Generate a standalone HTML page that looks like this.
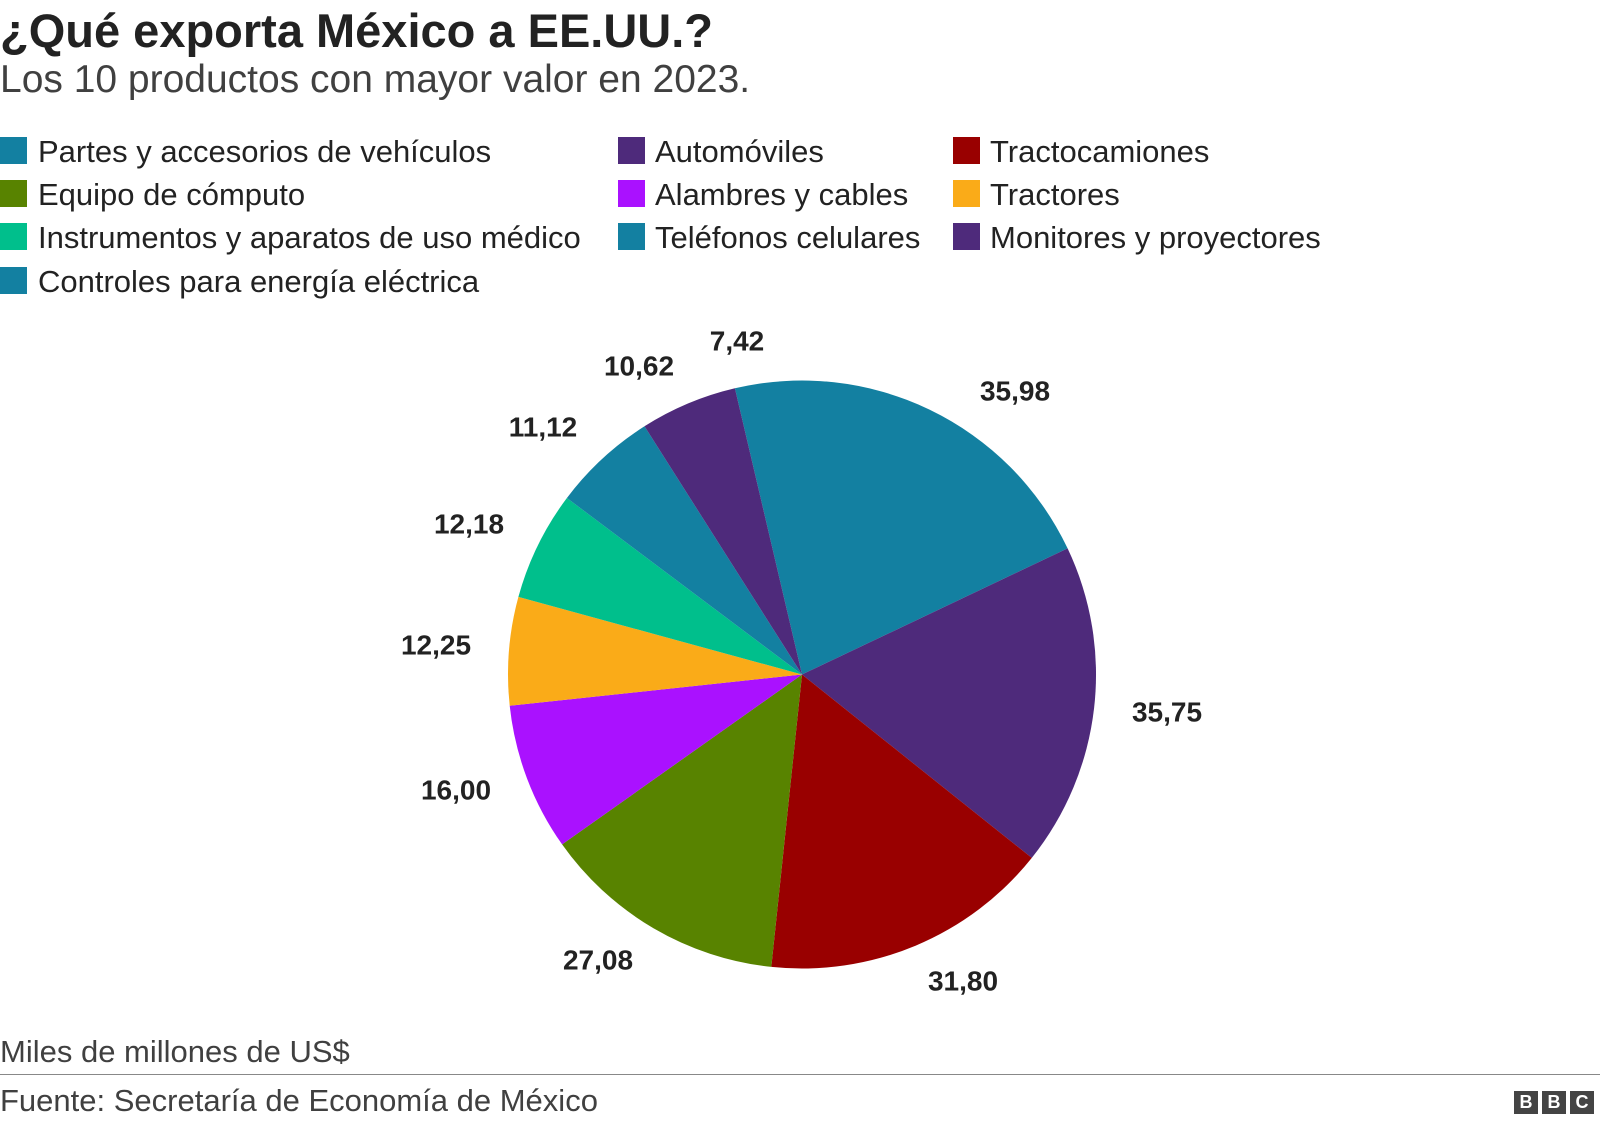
<!DOCTYPE html>
<html><head><meta charset="utf-8"><style>
body{margin:0;width:1600px;height:1129px;background:#fff;font-family:"Liberation Sans",Arial,sans-serif;overflow:hidden;position:relative}
.t{position:absolute;white-space:nowrap;color:#222}
.sq{position:absolute;width:27px;height:27px}
.lg{position:absolute;font-size:31px;color:#222;white-space:nowrap;line-height:30px}
</style></head><body>
<div class="t" style="left:0;top:3px;font-size:47px;font-weight:bold">¿Qué exporta México a EE.UU.?</div>
<div class="t" style="left:0;top:58px;font-size:39px;color:#404040">Los 10 productos con mayor valor en 2023.</div>

<div class="sq" style="left:0;top:137px;background:#1380A1"></div><div class="lg" style="left:38px;top:137px">Partes y accesorios de vehículos</div>
<div class="sq" style="left:618px;top:137px;background:#4E2A7B"></div><div class="lg" style="left:655px;top:137px">Automóviles</div>
<div class="sq" style="left:953px;top:137px;background:#990000"></div><div class="lg" style="left:990px;top:137px">Tractocamiones</div>

<div class="sq" style="left:0;top:180px;background:#588300"></div><div class="lg" style="left:38px;top:180px">Equipo de cómputo</div>
<div class="sq" style="left:618px;top:180px;background:#AA11FF"></div><div class="lg" style="left:655px;top:180px">Alambres y cables</div>
<div class="sq" style="left:953px;top:180px;background:#FAAB18"></div><div class="lg" style="left:990px;top:180px">Tractores</div>

<div class="sq" style="left:0;top:223px;background:#00BF8C"></div><div class="lg" style="left:38px;top:223px">Instrumentos y aparatos de uso médico</div>
<div class="sq" style="left:618px;top:223px;background:#1380A1"></div><div class="lg" style="left:655px;top:223px">Teléfonos celulares</div>
<div class="sq" style="left:953px;top:223px;background:#4E2A7B"></div><div class="lg" style="left:990px;top:223px">Monitores y proyectores</div>

<div class="sq" style="left:0;top:267px;background:#1380A1"></div><div class="lg" style="left:38px;top:267px">Controles para energía eléctrica</div>

<svg width="1600" height="1129" style="position:absolute;left:0;top:0" font-family="Liberation Sans,Arial,sans-serif">
<g stroke="none">
<path d="M802,674.5 L734.9,388.3 A294,294 0 0 1 1067.6,548.4 Z" fill="#1380A1"/>
<path d="M802,674.5 L1067.6,548.4 A294,294 0 0 1 1031.8,857.9 Z" fill="#4E2A7B"/>
<path d="M802,674.5 L1031.8,857.9 A294,294 0 0 1 771.3,966.9 Z" fill="#990000"/>
<path d="M802,674.5 L771.3,966.9 A294,294 0 0 1 562.1,844.4 Z" fill="#588300"/>
<path d="M802,674.5 L562.1,844.4 A294,294 0 0 1 509.7,705.8 Z" fill="#AA11FF"/>
<path d="M802,674.5 L509.7,705.8 A294,294 0 0 1 518.4,596.9 Z" fill="#FAAB18"/>
<path d="M802,674.5 L518.4,596.9 A294,294 0 0 1 566.9,498.0 Z" fill="#00BF8C"/>
<path d="M802,674.5 L566.9,498.0 A294,294 0 0 1 644.5,426.3 Z" fill="#1380A1"/>
<path d="M802,674.5 L644.5,426.3 A294,294 0 0 1 734.9,388.3 Z" fill="#4E2A7B"/>
</g>
<g font-size="28" font-weight="bold" fill="#222" text-anchor="middle" dominant-baseline="central">
<text x="737" y="341">7,42</text>
<text x="639" y="366">10,62</text>
<text x="543" y="427">11,12</text>
<text x="469" y="524">12,18</text>
<text x="436" y="645">12,25</text>
<text x="456" y="790">16,00</text>
<text x="598" y="960">27,08</text>
<text x="963" y="981">31,80</text>
<text x="1167" y="712">35,75</text>
<text x="1015" y="391">35,98</text>
</g>
</svg>

<div class="t" style="left:0;top:1034px;font-size:31px;color:#404040">Miles de millones de US$</div>
<div style="position:absolute;left:0;top:1074px;width:1600px;height:1px;background:#888"></div>
<div class="t" style="left:0;top:1083px;font-size:31px;color:#404040">Fuente: Secretaría de Economía de México</div>
<div style="position:absolute;left:1514px;top:1091px;display:flex;gap:4px">
<div style="width:24px;height:23px;background:#444;color:#fff;font-weight:bold;font-size:18px;text-align:center;line-height:23px">B</div>
<div style="width:24px;height:23px;background:#444;color:#fff;font-weight:bold;font-size:18px;text-align:center;line-height:23px">B</div>
<div style="width:24px;height:23px;background:#444;color:#fff;font-weight:bold;font-size:18px;text-align:center;line-height:23px">C</div>
</div>
</body></html>
